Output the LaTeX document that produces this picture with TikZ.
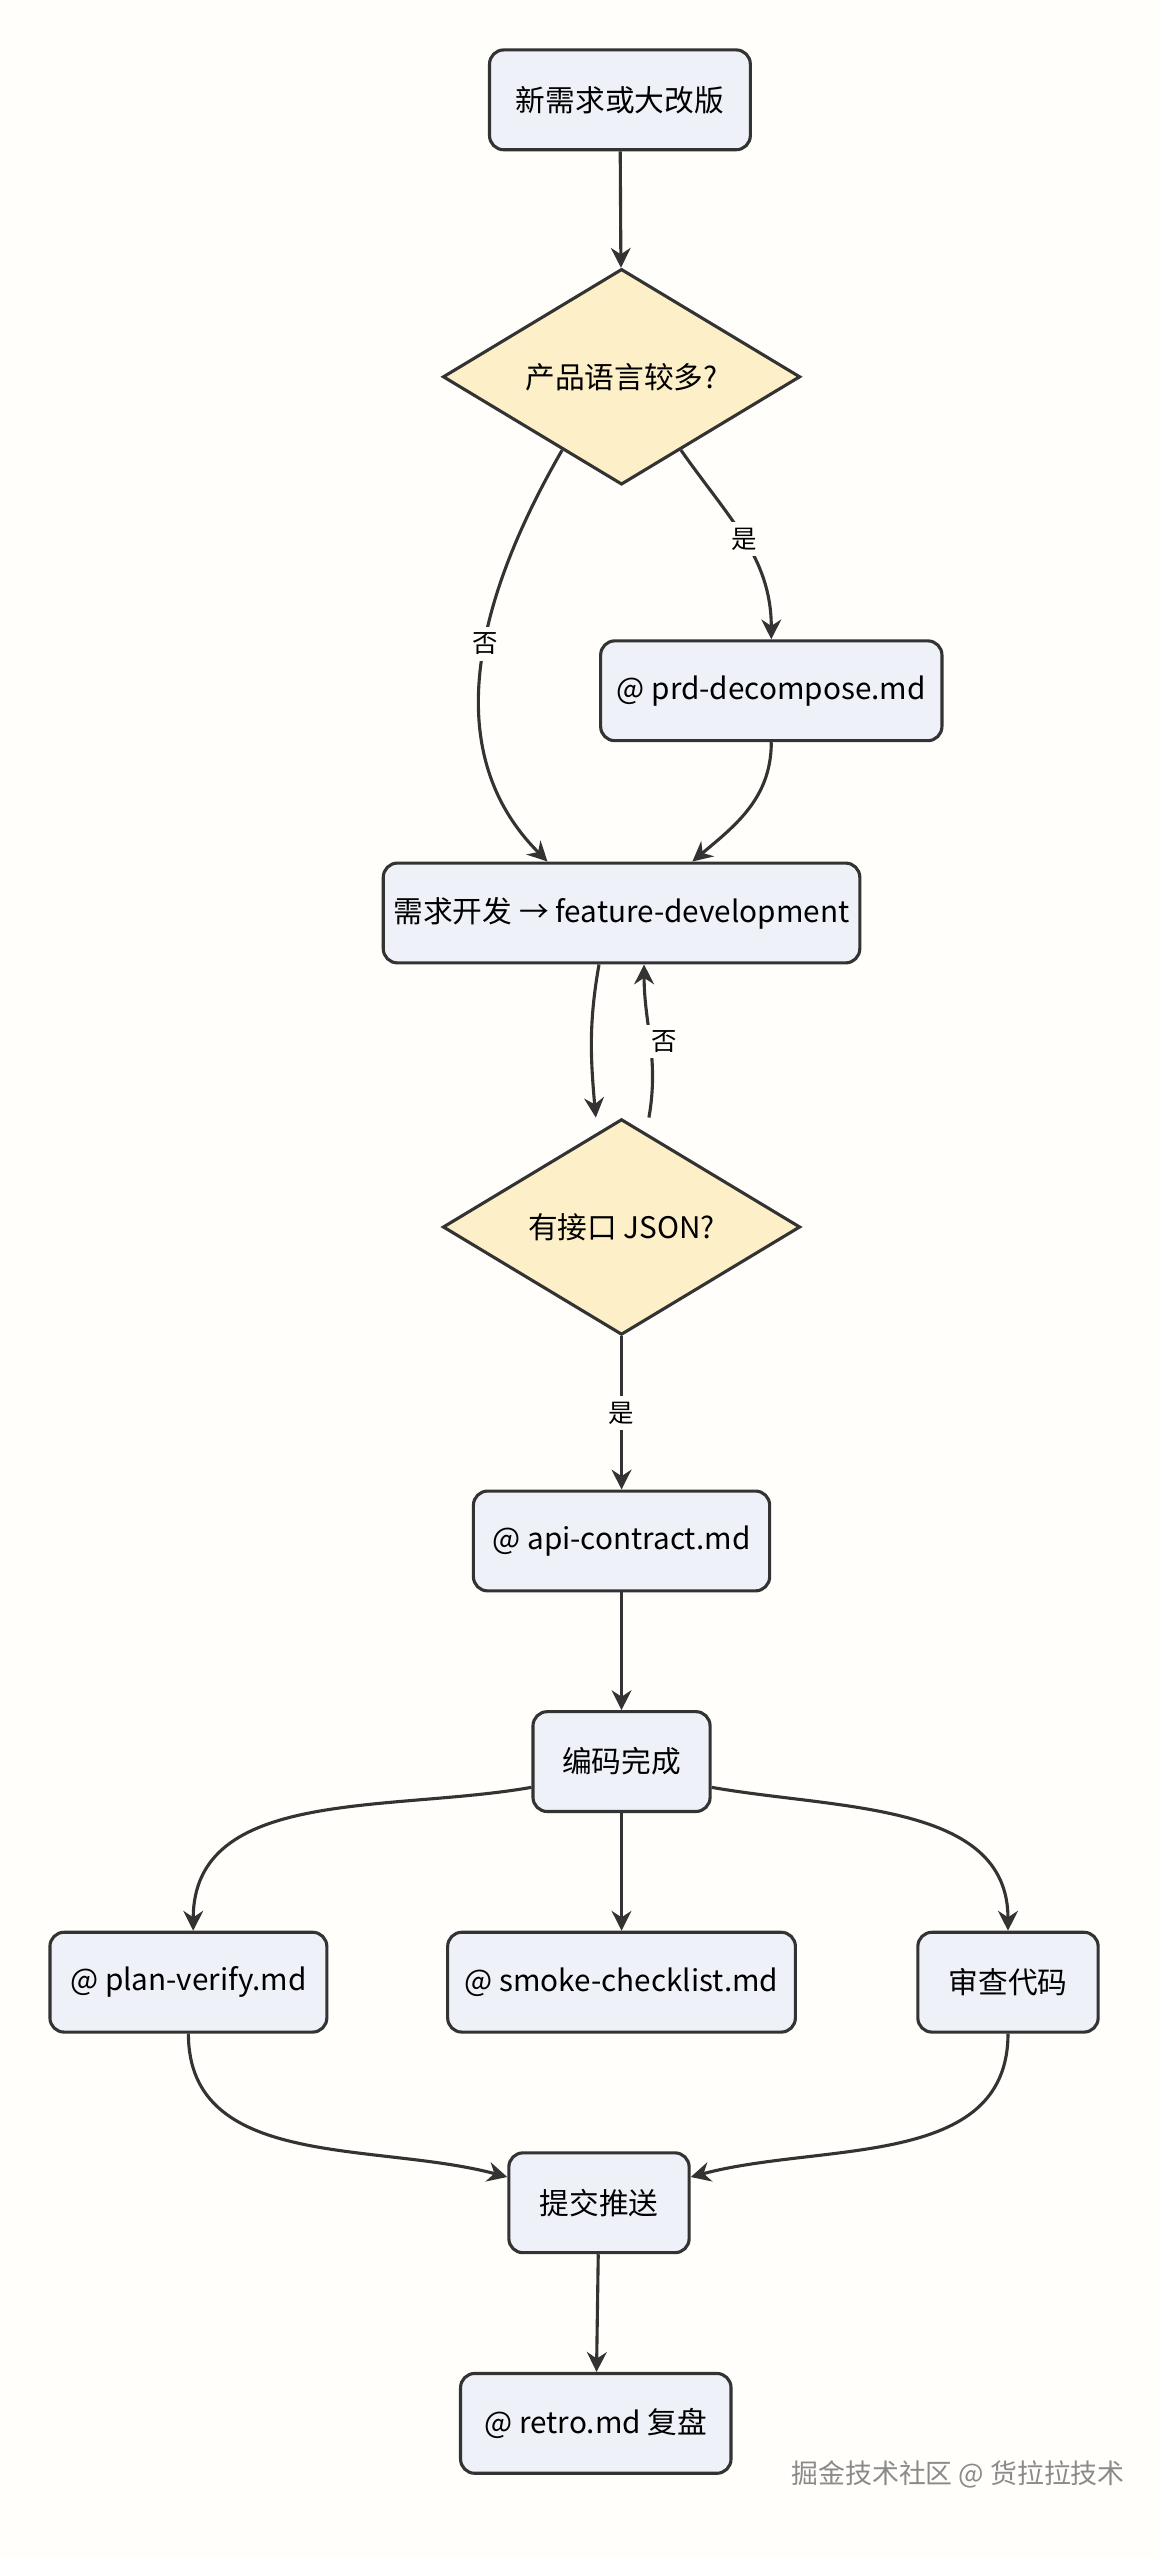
\documentclass[tikz,border=0pt]{standalone}
\usepackage{fontspec}
\setmainfont{Noto Sans CJK SC}
\usetikzlibrary{shapes.geometric, positioning, arrows.meta}
\definecolor{BoxFill}{HTML}{EEF1F8}
\definecolor{BoxLine}{HTML}{333333}
\definecolor{DecFill}{HTML}{FDF0C9}
\definecolor{PageBg}{HTML}{FFFEFA}
\definecolor{MarkGray}{HTML}{8A8A8A}

\tikzset{
  task/.style={draw=BoxLine, line width=1.1pt, fill=BoxFill, rounded corners=5pt,
    minimum height=1.24cm, font=\fontsize{10.5}{12}\selectfont},
  choice/.style={draw=BoxLine, line width=1.1pt, fill=DecFill, diamond, aspect=1.66,
    inner sep=0pt, minimum width=4.44cm, minimum height=2.68cm, font=\fontsize{10.5}{12}\selectfont},
  flow/.style={draw=BoxLine, line width=1.1pt, -{Stealth[length=7pt,width=7pt]}},
  tag/.style={fill=PageBg, inner sep=2pt, font=\fontsize{9}{10}\selectfont}
}

\begin{document}
\begin{tikzpicture}[x=0.02cm, y=-0.02cm]
  \fill[PageBg] (0,0) rectangle (720,1588);
  \useasboundingbox (0,0) rectangle (720,1588);

  % nodes
  \node[task, minimum width=3.24cm] (new) at (385,62) {新需求或大改版};
  \node[choice] (lang) at (386,234) {产品语言较多?};
  \node[task, minimum width=4.24cm] (prd) at (479,429) {@ prd-decompose.md};
  \node[task, minimum width=5.92cm] (feat) at (386,567) {需求开发 → feature-development};
  \node[choice] (json) at (386,762) {有接口 JSON?};
  \node[task, minimum width=3.68cm] (api) at (386,957) {@ api-contract.md};
  \node[task, minimum width=2.2cm] (code) at (386,1094) {编码完成};
  \node[task, minimum width=3.44cm] (plan) at (117,1231) {@ plan-verify.md};
  \node[task, minimum width=4.32cm] (smoke) at (386,1231) {@ smoke-checklist.md};
  \node[task, minimum width=2.24cm] (review) at (626,1231) {审查代码};
  \node[task, minimum width=2.24cm] (commit) at (372,1368) {提交推送};
  \node[task, minimum width=3.36cm] (retro) at (370,1505) {@ retro.md 复盘};

  % connectors
  \draw[flow] (new) -- (lang);
  \draw[flow] (lang.-51) to[out=-55, in=90] node[tag, pos=0.5] {是} (prd.north);
  \draw[flow] (lang.-129) to[out=-120, in=135] node[tag, pos=0.45] {否} ([xshift=-0.92cm]feat.north);
  \draw[flow] (prd.south) to[out=-90, in=40] ([xshift=0.88cm]feat.north);
  \draw[flow] ([xshift=-0.28cm]feat.south) to[out=-100, in=95] ([xshift=-0.32cm]json.north);
  \draw[flow] ([xshift=0.34cm]json.north) to[out=80, in=-90] node[tag, right=-2pt, pos=0.5] {否} ([xshift=0.28cm]feat.south);
  \draw[flow] (json) -- node[tag, pos=0.5] {是} (api);
  \draw[flow] (api) -- (code);
  \draw[flow] ([yshift=-0.32cm]code.west) to[out=190, in=90] ([xshift=0.06cm]plan.north);
  \draw[flow] (code) -- (smoke);
  \draw[flow] ([yshift=-0.32cm]code.east) to[out=-10, in=90] (review.north);
  \draw[flow] (plan.south) to[out=-90, in=165] ([yshift=0.32cm]commit.west);
  \draw[flow] (review.south) to[out=-90, in=15] ([yshift=0.32cm]commit.east);
  \draw[flow] (commit) -- (retro);

  % site mark
  \node[text=MarkGray, font=\fontsize{9.5}{11}\selectfont] (mark) at (595,1537) {掘金技术社区 @ 货拉拉技术};
\end{tikzpicture}
\end{document}
